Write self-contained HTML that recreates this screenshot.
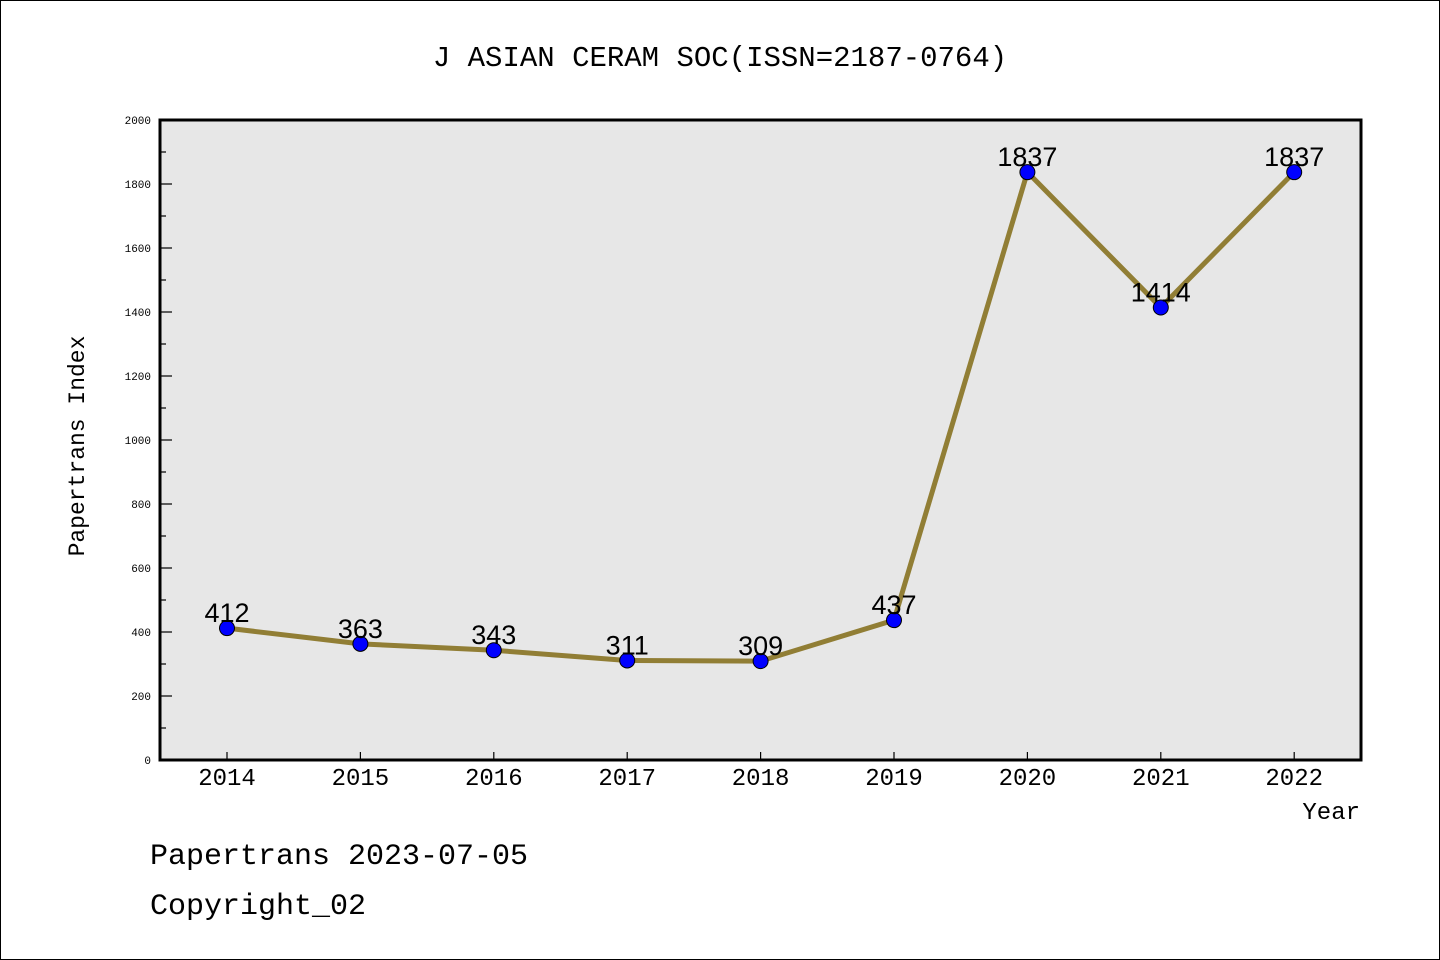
<!DOCTYPE html>
<html><head><meta charset="utf-8"><style>body{margin:0;background:#fff}svg{display:block}</style></head>
<body>
<svg width="1440" height="960" xmlns="http://www.w3.org/2000/svg">
<rect x="0.5" y="0.5" width="1439" height="959" fill="#fff" stroke="#000"/>
<text x="720" y="66" text-anchor="middle" font-family="'WenQuanYi Zen Hei','Liberation Mono',monospace" font-size="29">J ASIAN CERAM SOC(ISSN=2187-0764)</text>
<rect x="160" y="120" width="1201" height="640" fill="#e7e7e7" stroke="#000" stroke-width="3"/>
<g id="axes"></g>
<g id="series"></g>
<text transform="translate(84,446) rotate(-90)" text-anchor="middle" font-family="'WenQuanYi Zen Hei','Liberation Mono',monospace" font-size="23">Papertrans Index</text>
<text x="1360" y="819" text-anchor="end" font-family="'WenQuanYi Zen Hei','Liberation Mono',monospace" font-size="24">Year</text>
<text x="150" y="864" font-family="'WenQuanYi Zen Hei','Liberation Mono',monospace" font-size="30">Papertrans 2023-07-05</text>
<text x="150" y="914" font-family="'WenQuanYi Zen Hei','Liberation Mono',monospace" font-size="30">Copyright_02</text>
</svg>
<script>
const years = ['2014','2015','2016','2017','2018','2019','2020','2021','2022'];
const values = [412,363,343,311,309,437,1837,1414,1837];
const yTicks = [0,200,400,600,800,1000,1200,1400,1600,1800,2000];
const NS='http://www.w3.org/2000/svg';
const xS=i=>227+i*133.4;
const yS=v=>760-v*0.32;
const mono="'WenQuanYi Zen Hei','Liberation Mono',monospace";
function mk(t,a,p){const e=document.createElementNS(NS,t);for(const k in a)e.setAttribute(k,a[k]);p.appendChild(e);return e;}
const ax=document.getElementById('axes');
for(let v=0;v<=2000;v+=100){
  const tk=mk('line',{x1:160,x2:v%200===0?172:166,y1:yS(v),y2:yS(v),stroke:'#000','stroke-width':1.2},ax);
  
  
}
yTicks.forEach(v=>{
  const t=mk('text',{x:151,y:yS(v)+4,'text-anchor':'end','font-family':mono,'font-size':11},ax);
  t.textContent=v;
  
  
});
years.forEach((y,i)=>{
  const tk=mk('line',{x1:xS(i),x2:xS(i),y1:760,y2:752,stroke:'#000','stroke-width':1.2},ax);
  
  
  const t=mk('text',{x:xS(i),y:785,'text-anchor':'middle','font-family':mono,'font-size':24},ax);
  t.textContent=y;
  
  
});
const s=document.getElementById('series');
const pl=mk('polyline',{points:values.map((v,i)=>xS(i)+','+yS(v)).join(' '),fill:'none',stroke:'#917e35','stroke-width':5},s);


values.forEach((v,i)=>{
  const c=mk('circle',{cx:xS(i),cy:yS(v),r:7.5,fill:'#0000ff',stroke:'#000','stroke-width':1},s);
  
  
  const t=mk('text',{x:xS(i),y:yS(v)-6,'text-anchor':'middle','font-family':"'Liberation Sans',sans-serif",'font-size':27},s);
  t.textContent=v;
  
  
});
</script>
</body></html>
